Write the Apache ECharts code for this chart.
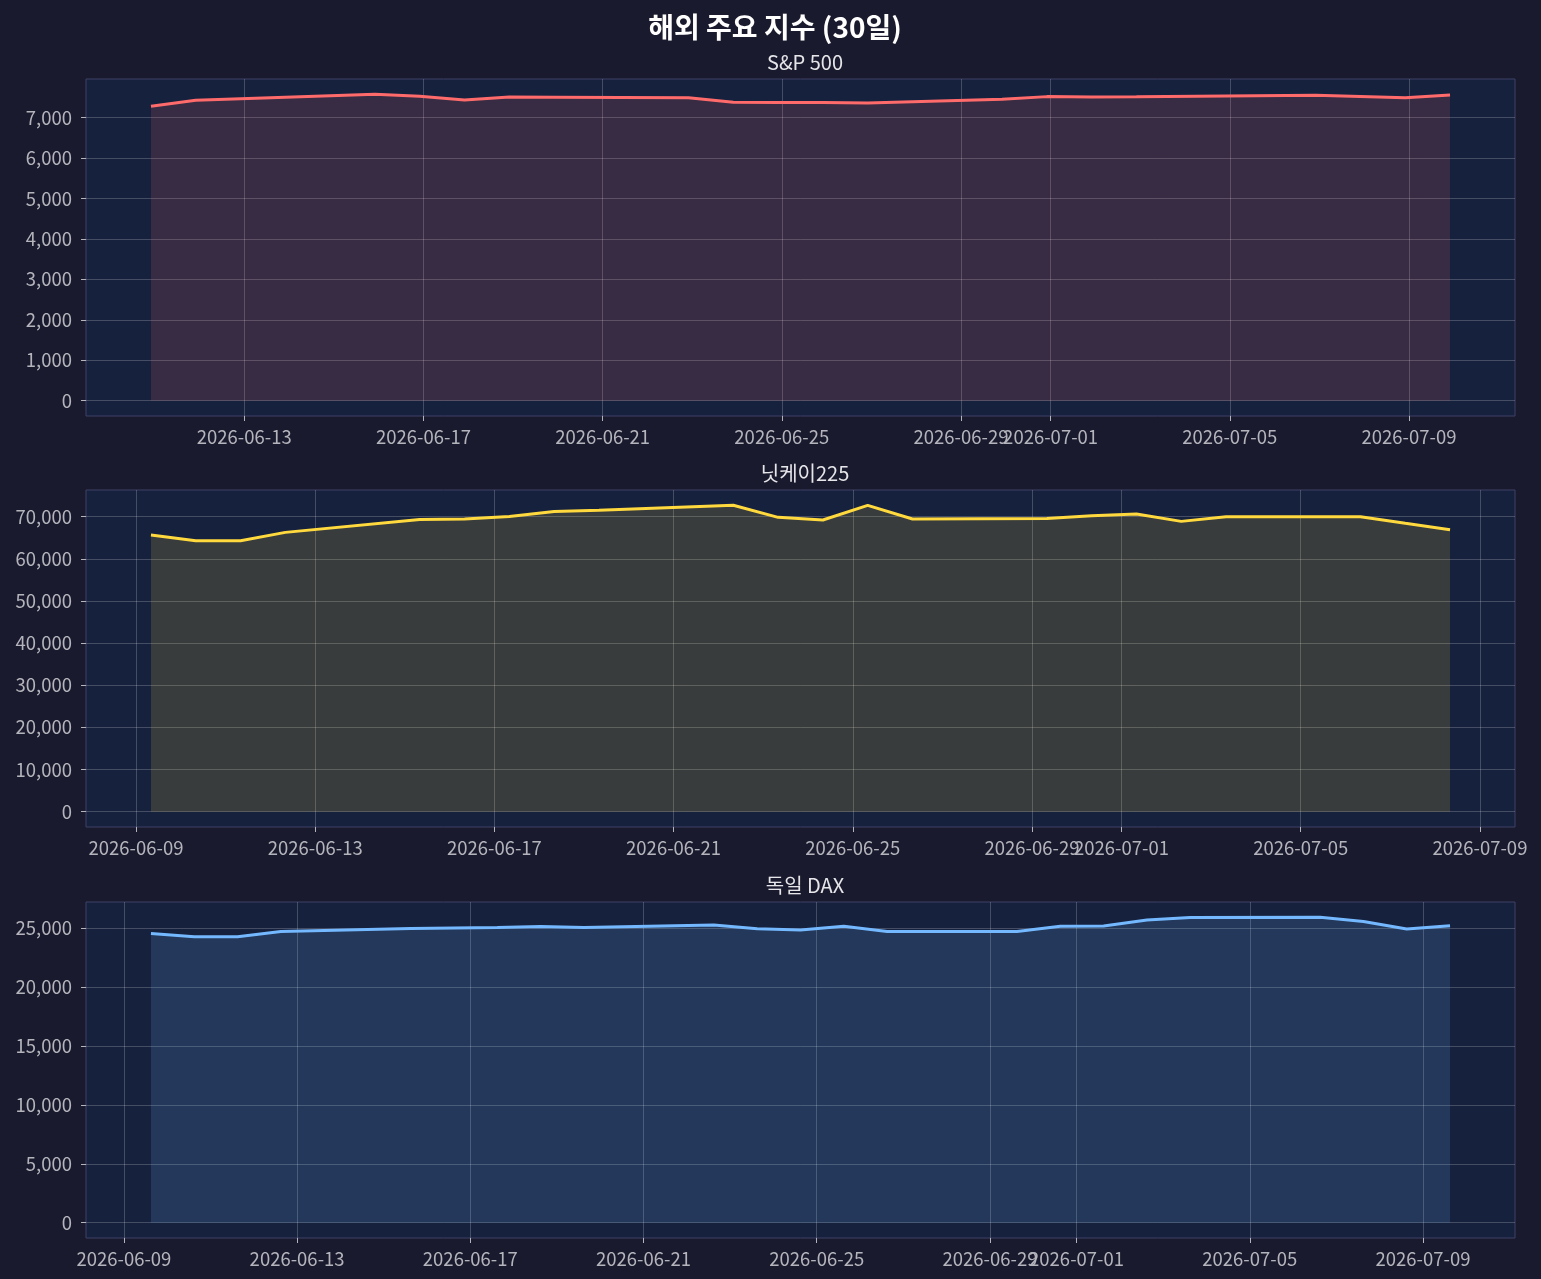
<!DOCTYPE html>
<html>
<head>
    <meta charset="UTF-8">
    <title>해외 주요 지수 (30일)</title>
    <script src="https://cdn.jsdelivr.net/npm/echarts@6/dist/echarts.min.js"></script>
    <style>
        html, body { margin: 0; height: 100%; background: #1a1a2e; }
        #container { width: 1541px; height: 1279px; }
    </style>
</head>
<body>
<div id="container"></div>
<script type="text/javascript">
    // S&P 500 (trading days, close values)
    var spDates = ['2026-06-10', '2026-06-11', '2026-06-12', '2026-06-15', '2026-06-16', '2026-06-17', '2026-06-18',
        '2026-06-19', '2026-06-22', '2026-06-23', '2026-06-24', '2026-06-25', '2026-06-26', '2026-06-29',
        '2026-06-30', '2026-07-01', '2026-07-02', '2026-07-06', '2026-07-07', '2026-07-08', '2026-07-09'];
    var spValues = [7280, 7429, 7465, 7577, 7528, 7437, 7511, 7505, 7495, 7379, 7375, 7372, 7363, 7453,
        7520, 7510, 7518, 7552, 7525, 7495, 7561];

    // 닛케이225
    var nkDates = ['2026-06-09', '2026-06-10', '2026-06-11', '2026-06-12', '2026-06-15', '2026-06-16', '2026-06-17',
        '2026-06-18', '2026-06-19', '2026-06-22', '2026-06-23', '2026-06-24', '2026-06-25', '2026-06-26',
        '2026-06-29', '2026-06-30', '2026-07-01', '2026-07-02', '2026-07-03', '2026-07-06', '2026-07-07', '2026-07-08'];
    var nkValues = [65660, 64310, 64310, 66280, 69360, 69450, 70070, 71260, 71550, 72700, 69840, 69220, 72700, 69450,
        69600, 70200, 70650, 68890, 70000, 70000, 68450, 66920];

    // 독일 DAX
    var daxDates = ['2026-06-09', '2026-06-10', '2026-06-11', '2026-06-12', '2026-06-15', '2026-06-16', '2026-06-17',
        '2026-06-18', '2026-06-19', '2026-06-22', '2026-06-23', '2026-06-24', '2026-06-25', '2026-06-26',
        '2026-06-29', '2026-06-30', '2026-07-01', '2026-07-02', '2026-07-03', '2026-07-06', '2026-07-07',
        '2026-07-08', '2026-07-09'];
    var daxValues = [24540, 24260, 24260, 24710, 24960, 25000, 25040, 25130, 25050, 25250, 24930, 24830, 25140, 24710,
        24710, 25140, 25170, 25680, 25900, 25910, 25560, 24915, 25195];

    // tick labels
    var xTickDates = ['2026-06-09', '2026-06-13', '2026-06-17', '2026-06-21', '2026-06-25', '2026-06-29',
        '2026-07-01', '2026-07-05', '2026-07-09', '2026-07-13'];
    var spTicks = [0, 1000, 2000, 3000, 4000, 5000, 6000, 7000];
    var nkTicks = [0, 10000, 20000, 30000, 40000, 50000, 60000, 70000];
    var daxTicks = [0, 5000, 10000, 15000, 20000, 25000];

    var FONT = '"Noto Sans CJK KR", "Noto Sans", sans-serif';
    var TICK_COLOR = '#b4b4bc';
    var GRID_COLOR = 'rgba(255,255,255,0.2)';

    var panels = [
        {name: 'S&P 500', dates: spDates, values: spValues, hour: 22, color: '#ff6b6b', yTicks: spTicks, top: 79, height: 337},
        {name: '닛케이225', dates: nkDates, values: nkValues, hour: 8, color: '#ffd93d', yTicks: nkTicks, top: 490, height: 337},
        {name: '독일 DAX', dates: daxDates, values: daxValues, hour: 15, color: '#74b9ff', yTicks: daxTicks, top: 902, height: 336}
    ];

    function toTime(d, hour) {
        return Date.parse(d + 'T00:00:00Z') + hour * 3600 * 1000;
    }

    var titles = [{
        text: '해외 주요 지수 (30일)',
        left: 770, top: 8, textAlign: 'center',
        textStyle: {color: '#ffffff', fontSize: 28, fontWeight: 'bold', fontFamily: FONT}
    }];
    var grids = [], xAxes = [], yAxes = [], series = [];

    panels.forEach(function (p, i) {
        var times = p.dates.map(function (d) { return toTime(d, p.hour); });
        var span = times[times.length - 1] - times[0];
        var xmin = times[0] - span * 0.05;
        var xmax = times[times.length - 1] + span * 0.05;
        var vmax = Math.max.apply(null, p.values);
        var xTicks = xTickDates.map(function (d) { return toTime(d, 0); })
            .filter(function (t) { return t >= xmin && t <= xmax; });

        titles.push({
            text: p.name,
            left: 800, top: p.top - 32, textAlign: 'center',
            textStyle: {color: '#e6e6ea', fontSize: 20, fontWeight: 'normal', fontFamily: FONT}
        });

        grids.push({
            left: 86, right: 26, top: p.top, height: p.height,
            show: true, backgroundColor: '#16213e', borderColor: '#3c4164', borderWidth: 1
        });

        xAxes.push({
            type: 'value', gridIndex: i, min: xmin, max: xmax,
            axisLine: {show: false, onZero: false},
            axisTick: {show: true, length: 5, lineStyle: {color: TICK_COLOR}, customValues: xTicks},
            axisLabel: {
                customValues: xTicks, color: TICK_COLOR, fontSize: 18.5, fontFamily: FONT, margin: 12,
                formatter: function (v) { return new Date(v).toISOString().slice(0, 10); }
            },
            splitLine: {show: true, lineStyle: {color: GRID_COLOR, width: 1}}
        });

        yAxes.push({
            type: 'value', gridIndex: i, min: -vmax * 0.05, max: vmax * 1.05,
            axisLine: {show: false},
            axisTick: {show: true, length: 5, lineStyle: {color: TICK_COLOR}, customValues: p.yTicks},
            axisLabel: {
                customValues: p.yTicks, color: TICK_COLOR, fontSize: 18.5, fontFamily: FONT, margin: 14,
                formatter: function (v) { return v.toLocaleString('en-US'); }
            },
            splitLine: {show: true, lineStyle: {color: GRID_COLOR, width: 1}}
        });

        series.push({
            name: p.name, type: 'line', xAxisIndex: i, yAxisIndex: i,
            data: times.map(function (t, k) { return [t, p.values[k]]; }),
            showSymbol: false,
            lineStyle: {color: p.color, width: 3},
            itemStyle: {color: p.color},
            areaStyle: {color: p.color, opacity: 0.15, origin: 'auto'}
        });
    });

    var myChart = echarts.init(document.getElementById('container'));
    var option = {
        backgroundColor: '#1a1a2e',
        animation: false,
        title: titles,
        grid: grids,
        xAxis: xAxes,
        yAxis: yAxes,
        series: series
    };
    myChart.setOption(option, true);
</script>
</body>
</html>
